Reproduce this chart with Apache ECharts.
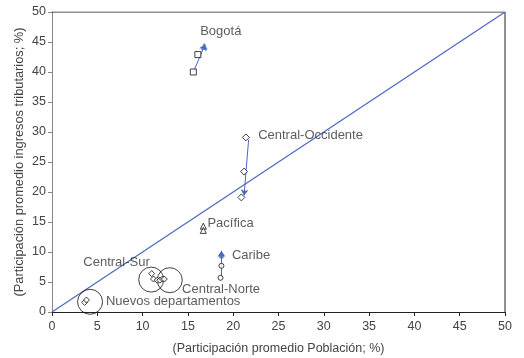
<!DOCTYPE html>
<html>
<head>
<meta charset="utf-8">
<script src="https://cdn.jsdelivr.net/npm/echarts@6/dist/echarts.min.js"></script>
<style>
  html, body { margin: 0; padding: 0; background: #fff; }
  #main { width: 524px; height: 358px; }
</style>
</head>
<body>
<div id="main"></div>
<script>
var chartDom = document.getElementById('main');
var myChart = echarts.init(chartDom);
var option;

// points per region [poblacion, ingresos]
var bogota = [[15.6, 40.0], [16.1, 42.9]];
var bogotaEnd = [[16.8, 44.3]];
var centralOccidente = [[21.4, 29.1], [21.2, 23.4], [20.9, 19.1]];
var pacifica = [[16.7, 14.3], [16.7, 13.6]];
var caribe = [[18.7, 7.7], [18.6, 5.7]];
var caribeEnd = [[18.7, 9.3]];
var centralSur = [[11.0, 6.4], [11.2, 5.5], [11.6, 5.3]];
var centralNorte = [[11.9, 5.3], [12.2, 5.5], [12.4, 5.5]];
var nuevos = [[3.6, 1.6], [3.8, 2.0]];

// arrows: from -> to
var arrows = [
  [[15.6, 40.0], [16.9, 44.6]],
  [[21.7, 28.7], [21.2, 19.4]],
  [[18.7, 5.9], [18.7, 10.2]],
];

// grouping circles [x, y]
var groupCircles = [[10.95, 5.4], [13.0, 5.3], [4.2, 1.7]];

// region labels [text, x, y]
var regionLabels = [
  ['Bogotá', 16.3, 46.8],
  ['Central-Occidente', 22.7, 29.5],
  ['Pacífica', 17.1, 14.7],
  ['Caribe', 19.8, 9.5],
  ['Central-Sur', 3.4, 8.3],
  ['Central-Norte', 14.3, 3.8],
  ['Nuevos departamentos', 5.9, 1.7],
];

var font = 'Liberation Sans, Arial, sans-serif';
var blue = '#4a68c0';

function pts(data, symbol, size) {
  return {
    type: 'scatter',
    data: data,
    symbol: symbol,
    symbolSize: size,
    itemStyle: { color: '#fff', borderColor: '#111', borderWidth: 1 },
    z: 5,
    silent: true,
  };
}

option = {
  animation: false,
  grid: { left: 52, right: 19, top: 12, bottom: 46, outerBoundsMode: 'none' },
  xAxis: {
    type: 'value',
    min: 0,
    max: 50,
    interval: 5,
    name: '(Participación promedio Población; %)',
    nameLocation: 'middle',
    nameGap: 30,
    nameMoveOverlap: false,
    nameTextStyle: { fontFamily: font, fontSize: 12.5, color: '#444' },
    axisLine: { lineStyle: { color: '#222' } },
    axisTick: { show: true, length: 4, lineStyle: { color: '#222' } },
    axisLabel: { fontFamily: font, fontSize: 12.5, color: '#444', margin: 8 },
    splitLine: { show: false },
  },
  yAxis: {
    type: 'value',
    min: 0,
    max: 50,
    interval: 5,
    name: '(Participación promedio ingresos tributarios; %)',
    nameLocation: 'middle',
    nameGap: 26,
    nameMoveOverlap: false,
    nameTextStyle: { fontFamily: font, fontSize: 12.8, color: '#444' },
    axisLine: { show: true, lineStyle: { color: '#888' } },
    axisTick: { show: true, length: 4, lineStyle: { color: '#888' } },
    axisLabel: { fontFamily: font, fontSize: 12.5, color: '#444', margin: 6 },
    splitLine: { show: false },
  },
  series: [
    // frame top and right
    {
      type: 'line',
      data: [[0, 50], [50, 50], [50, 0]],
      symbol: 'none',
      lineStyle: { color: '#222', width: 1 },
      silent: true,
    },
    // 45 degree line
    {
      type: 'line',
      data: [[0, 0], [50, 50]],
      symbol: 'none',
      lineStyle: { color: blue, width: 1.2 },
      silent: true,
    },
    {
      type: 'lines',
      coordinateSystem: 'cartesian2d',
      data: arrows.map(function (a) { return { coords: a }; }),
      symbol: ['none', 'arrow'],
      symbolSize: 6,
      lineStyle: { color: blue, width: 1, opacity: 1 },
      z: 4,
      silent: true,
    },
    pts(bogota, 'rect', 6),
    {
      type: 'scatter',
      data: bogotaEnd,
      symbol: 'triangle',
      symbolSize: 7,
      itemStyle: { color: blue },
      z: 6,
      silent: true,
    },
    pts(centralOccidente, 'diamond', 7),
    pts(pacifica, 'triangle', 6),
    pts(caribe, 'circle', 5),
    {
      type: 'scatter',
      data: caribeEnd,
      symbol: 'circle',
      symbolSize: 5,
      itemStyle: { color: blue },
      z: 6,
      silent: true,
    },
    pts(centralSur, 'diamond', 6),
    pts(centralNorte, 'diamond', 6),
    pts(nuevos, 'diamond', 6),
    {
      type: 'scatter',
      data: groupCircles,
      symbol: 'circle',
      symbolSize: 25,
      itemStyle: { color: 'transparent', borderColor: '#111', borderWidth: 1 },
      z: 3,
      silent: true,
    },
    {
      type: 'scatter',
      data: regionLabels.map(function (l) { return { name: l[0], value: [l[1], l[2]] }; }),
      symbol: 'circle',
      symbolSize: 1,
      itemStyle: { color: 'rgba(0,0,0,0)' },
      label: {
        show: true,
        position: 'right',
        distance: 0,
        formatter: '{b}',
        fontFamily: font,
        fontSize: 13,
        color: '#333',
      },
      labelLayout: { hideOverlap: false },
      z: 7,
      silent: true,
    },
  ],
};

option && myChart.setOption(option);

window.onresize = function () {
  myChart.resize();
};
</script>
</body>
</html>
